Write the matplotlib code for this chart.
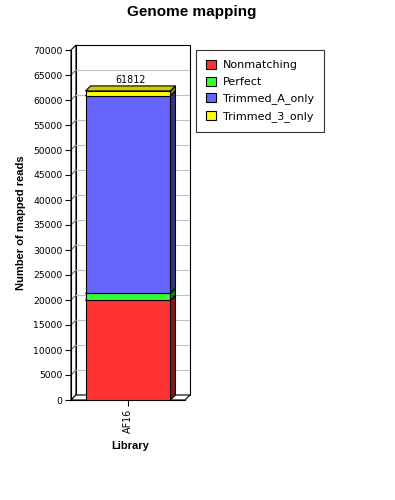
import matplotlib
matplotlib.use("Agg")
import matplotlib.pyplot as plt
from matplotlib.patches import Polygon, Rectangle, Patch
import numpy as np

# ---- data ----
categories = ["AF16"]
series_names = ["Nonmatching", "Perfect", "Trimmed_A_only", "Trimmed_3_only"]
values = {
    "Nonmatching": [19950],
    "Perfect": [1380],
    "Trimmed_A_only": [39470],
    "Trimmed_3_only": [1012],
}
series_colors = ["#FF3333", "#33FF33", "#6666FF", "#FFFF00"]
yticks = list(range(0, 70001, 5000))

W, H = 395, 500
fig = plt.figure(figsize=(W / 100, H / 100), dpi=100)
fig.patch.set_facecolor("white")

# axes: front face spans x 71..185 px, back wall offset by 5px
ax = fig.add_axes([71 / W, 100 / H, 119 / W, 355 / H])
ax.set_facecolor("none")
front_px = 114.0
dx = 5 / front_px          # depth in data x units
ax.set_xlim(-0.5, 0.5 + dx)
ax.set_ylim(0, 71000)
dy = 5 * 71000 / 355.0     # depth in data y units

ymax = 70000
lw = 0.8

def darker(c, f):
    r, g, b = matplotlib.colors.to_rgb(c)
    return (r * f, g * f, b * f)

# side wall (left)
ax.add_patch(Polygon([(-0.5, 0), (-0.5 + dx, dy), (-0.5 + dx, ymax + dy), (-0.5, ymax)],
                     closed=True, facecolor="white", edgecolor="black", lw=lw, zorder=1, clip_on=False))
# back wall
ax.add_patch(Rectangle((-0.5 + dx, dy), 1.0, ymax, facecolor="white",
                       edgecolor="black", lw=lw, zorder=1, clip_on=False))
# floor
ax.add_patch(Polygon([(-0.5, 0), (0.5, 0), (0.5 + dx, dy), (-0.5 + dx, dy)],
                     closed=True, facecolor="white", edgecolor="black", lw=lw, zorder=1, clip_on=False))
# grid lines on back wall + diagonals on side wall
for v in yticks[1:-1]:
    ax.plot([-0.5 + dx, 0.5 + dx], [v + dy, v + dy], color="#c0c0c0", lw=lw, zorder=2)
    ax.plot([-0.5, -0.5 + dx], [v, v + dy], color="#707070", lw=lw, zorder=2)

# stacked 3D bars
bar_w = 0.745
for ci, cat in enumerate(categories):
    x0 = ci - bar_w / 2
    x1 = ci + bar_w / 2
    bottom = 0
    for si, name in enumerate(series_names):
        v = values[name][ci]
        top = bottom + v
        col = series_colors[si]
        z = 3 + si
        # top face
        ax.add_patch(Polygon([(x0, top), (x1, top), (x1 + dx, top + dy), (x0 + dx, top + dy)],
                             closed=True, facecolor=darker(col, 0.8), edgecolor="black", lw=lw, zorder=z))
        # side face
        ax.add_patch(Polygon([(x1, bottom), (x1 + dx, bottom + dy), (x1 + dx, top + dy), (x1, top)],
                             closed=True, facecolor=darker(col, 0.5), edgecolor="black", lw=lw, zorder=z))
        # front face
        ax.add_patch(Rectangle((x0, bottom), x1 - x0, v, facecolor=col,
                               edgecolor="black", lw=lw, zorder=z))
        bottom = top
    ax.text(ci + dx / 2, bottom + dy + 100, f"{bottom}", ha="center", va="bottom",
            fontsize=6.9, family="DejaVu Sans", zorder=10)

# axes/spines
for s in ["top", "right"]:
    ax.spines[s].set_visible(False)
ax.spines["left"].set_bounds(0, ymax)
ax.spines["bottom"].set_bounds(-0.5, 0.5)
ax.spines["left"].set_linewidth(lw)
ax.spines["bottom"].set_linewidth(lw)
ax.set_yticks(yticks)
ax.set_yticklabels([str(t) for t in yticks], fontsize=6.7, family="DejaVu Sans")
ax.set_xticks(range(len(categories)))
ax.set_xticklabels(categories, rotation=90, fontsize=6.9, family="DejaVu Sans")
ax.tick_params(axis="both", length=4, width=lw, pad=2)

ax.set_xlabel("Library", fontsize=8, fontweight="bold", family="Liberation Sans", labelpad=6)
ax.set_ylabel("Number of mapped reads", fontsize=8, fontweight="bold", family="Liberation Sans", labelpad=5)

fig.text(192 / W, 1 - 12 / H, "Genome mapping", ha="center", va="center",
         fontsize=11, fontweight="bold", family="Liberation Sans")

handles = [Patch(facecolor=c, edgecolor="black", lw=lw) for c in series_colors]
leg = fig.legend(handles, series_names, loc="upper left",
                 bbox_to_anchor=(196 / W, 1 - 50 / H), frameon=True, fancybox=False,
                 prop={"family": "DejaVu Sans", "size": 8}, handlelength=0.9, handleheight=0.9,
                 handletextpad=0.6, labelspacing=0.55, borderpad=0.9, borderaxespad=0)
leg.get_frame().set_edgecolor("black")
leg.get_frame().set_linewidth(lw)

fig.savefig("out.png", dpi=100)
